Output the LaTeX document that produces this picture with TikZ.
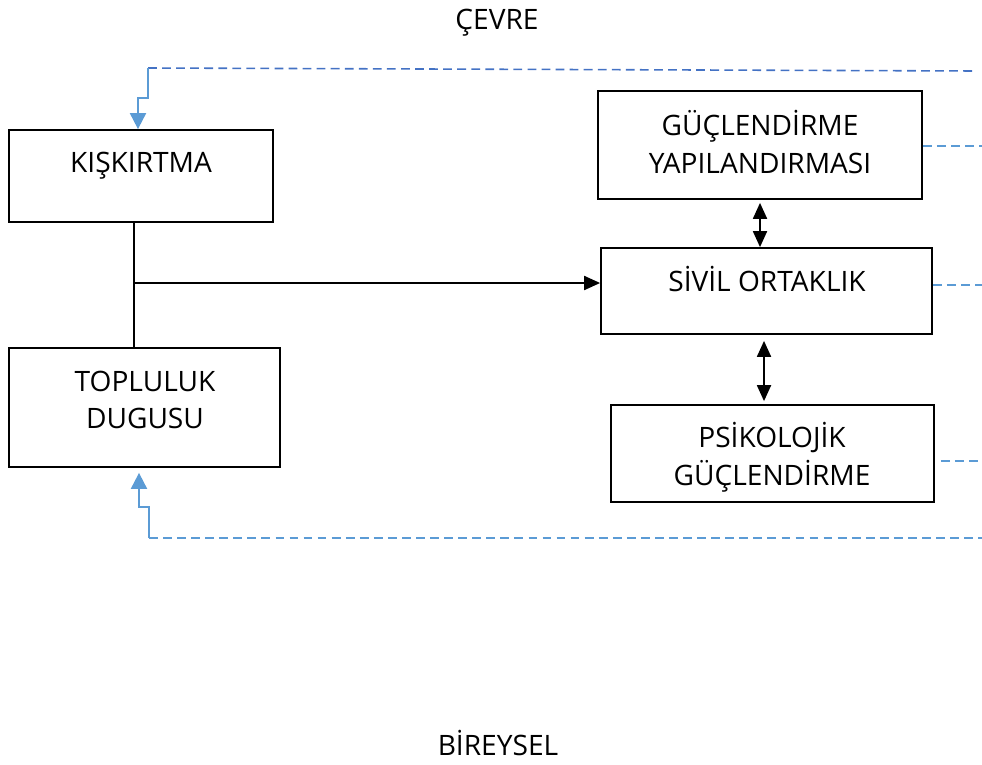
\documentclass[tikz,border=0pt]{standalone}
\usepackage{fontspec}
\setmainfont{Open Sans}
\usetikzlibrary{
  arrows.meta,
  fit
}
\definecolor{darkblue}{HTML}{4472C4}
\definecolor{lightblue}{HTML}{5B9BD5}
\tikzset{
  block/.style={
    draw, line width=1pt, inner sep=0pt
  },
  lbl/.style={
    align=center, inner sep=0pt,
    font=\fontsize{16}{21.5}\selectfont
  },
  one line/.style={
    lbl, text height=11.4pt, text depth=0pt
  },
  oneway/.style={
    line width=1.1pt, -{Triangle[length=3.2mm,width=2.8mm]}
  },
  twoway/.style={
    line width=1.1pt, {Triangle[length=3.2mm,width=2.8mm]}-{Triangle[length=3.2mm,width=2.8mm]}
  },
  feed/.style={
    lightblue, line width=1.1pt, -{Triangle[length=3.2mm,width=3.2mm]}
  },
  outer link/.style={
    darkblue, line width=0.9pt, dash pattern=on 5pt off 3pt
  },
  side link/.style={
    lightblue, line width=0.9pt, dash pattern=on 5pt off 3pt
  }
}

\begin{document}
\begin{tikzpicture}[x=0.02cm, y=-0.02cm]
\useasboundingbox (0,0) rectangle (982,764);

% boxes
\node[block, fit={(9,130) (273,222)}] (kisk) {};
\node[block, fit={(9,348) (280,467)}] (toplu) {};
\node[block, fit={(598,91) (922,199)}] (guc) {};
\node[block, fit={(601,248) (932,334)}] (sivil) {};
\node[block, fit={(611,405) (934,502)}] (psik) {};

\node[one line] (kisk-t) at (141,162) {KIŞKIRTMA};
\node[lbl] (toplu-t) at (145,400) {TOPLULUK\\DUGUSU};
\node[lbl] (guc-t) at (760,142) {GÜÇLENDİRME\\YAPILANDIRMASI};
\node[one line] (sivil-t) at (767,281) {SİVİL ORTAKLIK};
\node[lbl] (psik-t) at (772,457) {PSİKOLOJİK\\GÜÇLENDİRME};

\node[one line] (cevre) at (497,19) {ÇEVRE};
\node[one line] (birey) at (498,745) {BİREYSEL};

% links
\coordinate (j) at (134,283);
\draw[line width=1pt] (kisk.south -| j) -- (toplu.north -| j);
\draw[oneway] (j) -- (sivil.west |- j);
\draw[twoway, shorten <=0.6mm] (guc.south) -- (sivil.north -| guc.south);
\draw[twoway, shorten <=1.2mm, shorten >=0.6mm] (sivil.south -| 764,0) -- (psik.north -| 764,0);

% feedback lines
\coordinate (t0) at (148,68);
\coordinate (t1) at (138,98);
\coordinate (te) at (976,71);
\draw[outer link] (t0) -- (te);
\draw[feed] (t0) |- (t1) -- (t1 |- kisk.north);

\coordinate (b0) at (149,538);
\coordinate (b1) at (139,507);
\coordinate (be) at (982,538);
\draw[side link] (b0) -- (be);
\draw[feed] (b0) |- (b1) -- ([yshift=-1mm]b1 |- toplu.south);

\coordinate (g1) at (982,146);
\coordinate (s1) at (982,285);
\coordinate (p1) at (982,461);
\draw[side link] (guc.east |- g1) -- (g1);
\draw[side link] (sivil.east |- s1) -- (s1);
\draw[side link] ([xshift=1.2mm]psik.east |- p1) -- (p1);
\end{tikzpicture}
\end{document}
